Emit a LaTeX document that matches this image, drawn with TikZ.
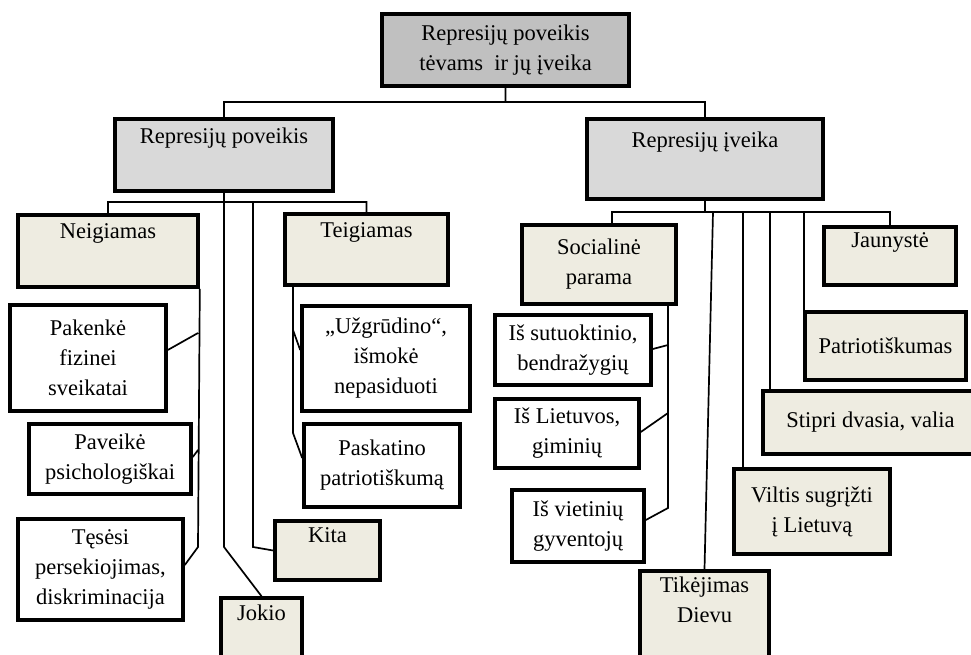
\documentclass[tikz,border=0pt]{standalone}
\usepackage{fontspec}
\setmainfont{Liberation Serif}
\usepackage{xcolor}
\usepackage{tikz}

\definecolor{rootgray}{HTML}{C0C0C0}
\definecolor{maingray}{HTML}{D9D9D9}
\definecolor{boxtan}{HTML}{EEECE1}

\tikzset{
  box/.style={draw, line width=3.6pt, align=center, inner sep=2pt,
    font=\fontsize{22.5}{30}\selectfont},
  rootbox/.style={box, fill=rootgray},
  mainbox/.style={box, fill=maingray},
  catbox/.style={box, fill=boxtan},
  itembox/.style={box, fill=white},
  link/.style={line width=1.7pt}
}

\begin{document}
\begin{tikzpicture}[x=1pt, y=-1pt]
            \clip (0,0) rectangle (971,655);

            % top levels
            \node[rootbox, minimum width=247, minimum height=72] (root) at (505.5,50) {Represijų poveikis\\tėvams\ \ ir jų įveika};
            \node[mainbox, minimum width=218, minimum height=72] (povk) at (224,155) {Represijų poveikis\\\strut};
            \node[mainbox, minimum width=236, minimum height=80] (ivk) at (705,159) {Represijų įveika\\\strut};

            % poveikis
            \node[catbox, minimum width=180, minimum height=72] (neig) at (108,251) {Neigiamas\\\strut};
            \node[catbox, minimum width=163, minimum height=71] (teig) at (366.5,249.5) {Teigiamas\\\strut};
            \node[itembox, minimum width=156, minimum height=106] (pak) at (88,358) {Pakenkė\\fizinei\\sveikatai};
            \node[itembox, minimum width=162, minimum height=70] (pav) at (110,459) {Paveikė\\psichologiškai};
            \node[itembox, minimum width=165, minimum height=101] (tes) at (100.5,569.5) {Tęsėsi\\persekiojimas,\\diskriminacija};
            \node[itembox, minimum width=168, minimum height=105] (uzg) at (386,358.5) {„Užgrūdino“,\\išmokė\\nepasiduoti};
            \node[itembox, minimum width=156, minimum height=83] (pask) at (382,465.5) {Paskatino\\patriotiškumą};
            \node[catbox, minimum width=105, minimum height=59] (kita) at (327.5,550.5) {Kita\\[-8pt]\strut};
            \node[catbox, minimum width=81, minimum height=68] (jok) at (261.5,632) {Jokio\\\strut};

            % iveika
            \node[catbox, minimum width=154, minimum height=79] (soc) at (599,264.5) {Socialinė\\parama};
            \node[itembox, minimum width=156, minimum height=70] (sut) at (573,350) {Iš sutuoktinio,\\bendražygių};
            \node[itembox, minimum width=144, minimum height=69] (liet) at (567,433.5) {Iš Lietuvos,\\giminių};
            \node[itembox, minimum width=132, minimum height=72] (viet) at (578,526) {Iš vietinių\\gyventojų};
            \node[catbox, minimum width=129, minimum height=97] (tik) at (704.5,619.5) {Tikėjimas\\Dievu\\\strut};
            \node[catbox, minimum width=156, minimum height=85] (vilt) at (812,511.5) {Viltis sugrįžti\\į Lietuvą};
            \node[catbox, minimum width=215, minimum height=63] (stip) at (870.5,422.5) {Stipri dvasia, valia};
            \node[catbox, minimum width=161, minimum height=68] (patr) at (885.5,346) {Patriotiškumas};
            \node[catbox, minimum width=132, minimum height=58] (jaun) at (890,256) {Jaunystė\\[-8pt]\strut};

            % junctions
            \coordinate (rj) at (505.5,102);
            \coordinate (lj) at (224,202);
            \coordinate (kj) at (253,202);
            \coordinate (jb) at (224,547);
            \coordinate (kb) at (253,547);
            \coordinate (n1) at (198,333);
            \coordinate (n2) at (198,450);
            \coordinate (n3) at (198,547);
            \coordinate (t1) at (293,330);
            \coordinate (t2) at (293,433);
            \coordinate (ij) at (705,212);
            \coordinate (sj) at (612,212);
            \coordinate (r1) at (713,212);
            \coordinate (r2) at (743,212);
            \coordinate (r3) at (770,212);
            \coordinate (r4) at (804,212);
            \coordinate (s1) at (668,345);
            \coordinate (s2) at (668,413);
            \coordinate (s3) at (668,508);

            \draw[link] (root.south) -- (rj)
                    (povk.north) |- (rj) -| (ivk.north)
                    (neig.north) |- (lj) -| (teig.north)
                    (povk.south) -- (jb) -- (jok.north)
                    (kj) -- (kb) -- (kita.west)
                    (neig.south east) -- (n3) -- (tes.east |- 0,565)
                    (n1) -- (pak.east |- 0,350)
                    (n2) -- (pav.east |- 0,457)
                    (teig.south -| t1) -- (t2) -- (pask.west |- 0,458)
                    (t1) -- (uzg.west |- 0,350)
                    (ivk.south) -- (ij)
                    (soc.north -| sj) |- (ij) -| (jaun.north)
                    (r1) -- (tik.north)
                    (r2) -- (vilt.north -| r2)
                    (r3) -- (stip.north -| r3)
                    (r4) -- (patr.north -| r4)
                    (soc.south -| s1) -- (s3) -- (viet.east |- 0,520)
                    (s1) -- (sut.east |- 0,349)
                    (s2) -- (liet.east |- 0,432)
                    ;
        \end{tikzpicture}
\end{document}
